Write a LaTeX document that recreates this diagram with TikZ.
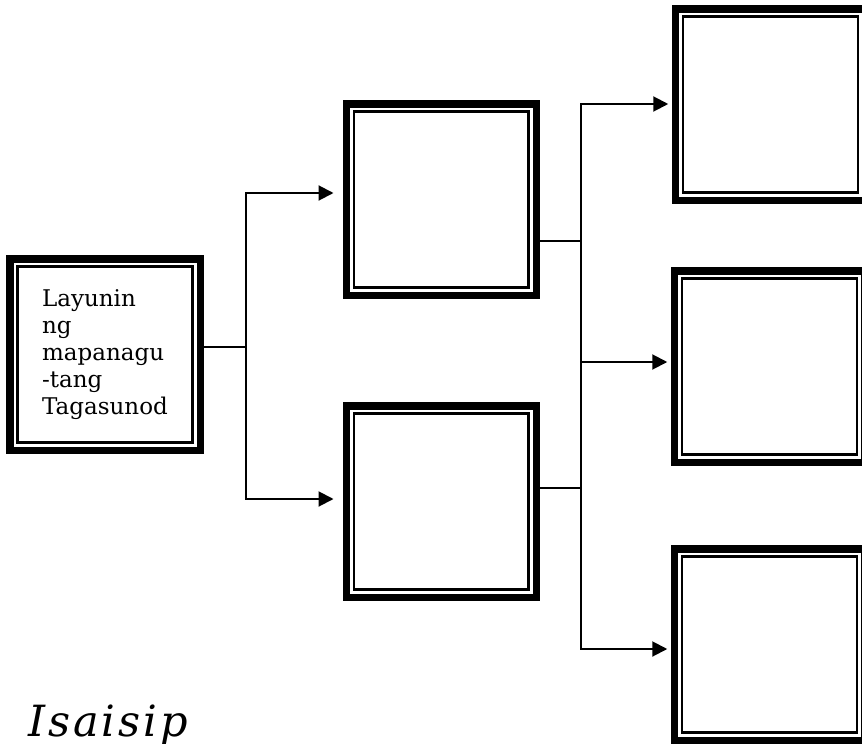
\documentclass[tikz,border=0pt]{standalone}
\usepackage{fontspec}
\setmainfont{DejaVu Serif}
\usetikzlibrary{arrows.meta}

\tikzset{
  dblbox/.style={draw, line width=7.5pt, inner sep=0pt, minimum width=190pt, minimum height=191.5pt,
    path picture={\draw[line width=2.2pt] ([shift={(7.75pt,7.75pt)}]path picture bounding box.south west) rectangle ([shift={(-7.75pt,-7.75pt)}]path picture bounding box.north east);}},
  link/.style={line width=2pt},
  tip/.style={link, -{Triangle[length=15pt,width=15pt]}}
}

\begin{document}
\begin{tikzpicture}[x=1pt, y=-1pt]
\useasboundingbox (0,0) rectangle (862,744);
% boxes
\node[dblbox, minimum width=190.5pt, align=left, font=\fontsize{23}{27.2}\selectfont] (goal) at (105,354.5) {Layunin\\ng\\mapanagu\\-tang\\Tagasunod};
\node[dblbox] (mid1) at (441.25,199.5) {};
\node[dblbox] (mid2) at (441.25,501.5) {};
\node[dblbox] (out1) at (770.5,104.5) {};
\node[dblbox] (out2) at (769.5,366.5) {};
\node[dblbox] (out3) at (769.5,644.5) {};
\node[inner sep=0pt, anchor=base west, font=\fontsize{43}{43}\selectfont\itshape\addfontfeatures{LetterSpace=7}] (title) at (28,736) {Isaisip};
% first fork
\coordinate (fork1) at (245.5,346.5);
\coordinate (up1) at (245.5,193);
\coordinate (dn1) at (245.5,499);
\draw[link] (goal.east |- fork1) -- (fork1);
\draw[tip, shorten >=9pt] (fork1) |- (up1 -| mid1.west);
\draw[tip, shorten >=9pt] (fork1) |- (dn1 -| mid2.west);
% second fork
\coordinate (fork2) at (580.5,241);
\coordinate (fork3) at (580.5,488);
\coordinate (hi) at (580.5,104);
\coordinate (md) at (580.5,362);
\coordinate (lo) at (580.5,649);
\draw[link] (mid1.east |- fork2) -- (fork2);
\draw[link] (mid2.east |- fork3) -- (fork3);
\draw[tip, shorten >=3.5pt] (lo) |- (hi -| out1.west);
\draw[tip, shorten >=3.5pt] (md) -- (md -| out2.west);
\draw[tip, shorten >=3.5pt] (hi) |- (lo -| out3.west);
\end{tikzpicture}
\end{document}
